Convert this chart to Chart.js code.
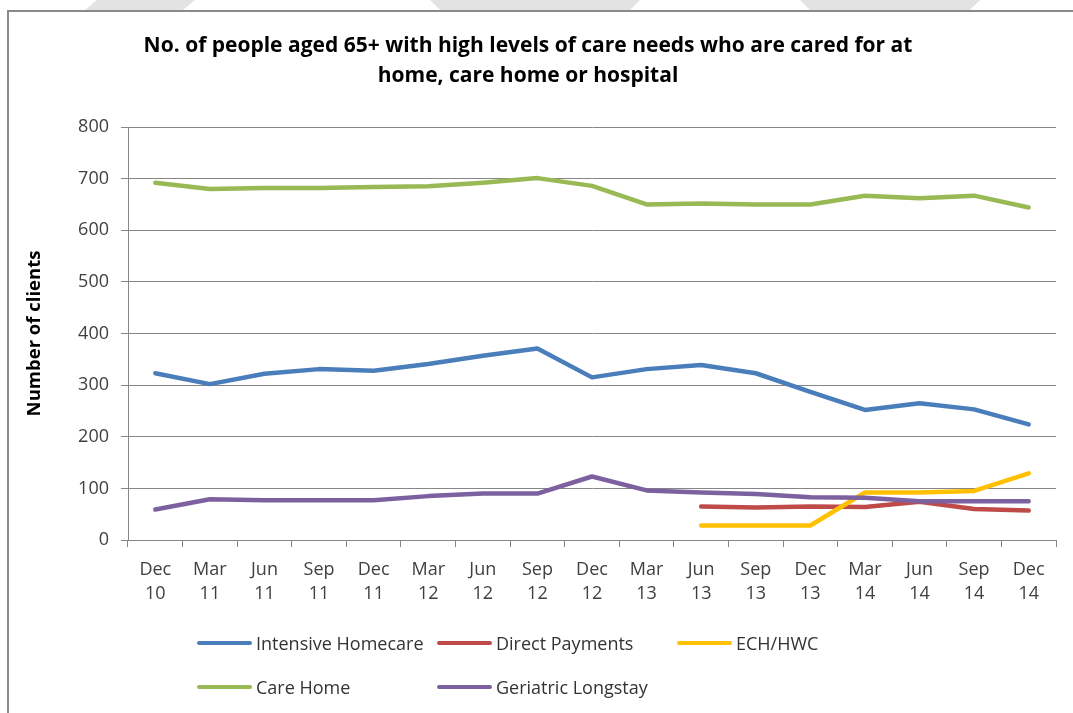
<!DOCTYPE html>
<html>
<head>
<meta charset="utf-8">
<script src="https://cdn.jsdelivr.net/npm/chart.js@4/dist/chart.umd.min.js"></script>
<style>
  html, body { margin: 0; padding: 0; background: #fff; }
  #wrap { position: relative; width: 1073px; height: 713px; overflow: hidden; background: #fff; }
  #frame { position: absolute; left: 7px; top: 10px; width: 1080px; height: 720px;
           border-left: 2px solid #8a8a8a; border-top: 2px solid #8a8a8a; }
  .wm { position: absolute; top: 0; height: 10px; background: #e3e3e3; }
  canvas { position: absolute; left: 0; top: 0; }
  #legend { position: absolute; left: 0; top: 0; width: 1073px; height: 713px; pointer-events: none;
            font-family: "Open Sans", sans-serif; font-size: 18px; color: #333; }
  .li { position: absolute; display: flex; align-items: center; white-space: nowrap; }
  .sw { width: 55px; height: 4px; border-radius: 2px; margin-right: 4px; }
</style>
</head>
<body>
<div id="wrap">
  <div class="wm" style="left:85px;width:110px;clip-path:polygon(12px 0,110px 0,98px 10px,0 10px);"></div>
  <div class="wm" style="left:430px;width:210px;clip-path:polygon(0 0,210px 0,200px 10px,10px 10px);"></div>
  <div class="wm" style="left:800px;width:180px;clip-path:polygon(0 0,180px 0,170px 10px,10px 10px);"></div>
  <div id="frame"></div>
  <canvas id="c" width="1073" height="713"></canvas>
  <div id="legend"></div>
</div>
<script>
const categories = [["Dec","10"],["Mar","11"],["Jun","11"],["Sep","11"],["Dec","11"],["Mar","12"],["Jun","12"],["Sep","12"],["Dec","12"],["Mar","13"],["Jun","13"],["Sep","13"],["Dec","13"],["Mar","14"],["Jun","14"],["Sep","14"],["Dec","14"]];
const seriesNames = ["Intensive Homecare","Direct Payments","ECH/HWC","Care Home","Geriatric Longstay"];
const intensiveHomecare = [323,302,322,331,328,341,357,371,315,331,339,323,287,252,265,253,224];
const directPayments   = [null,null,null,null,null,null,null,null,null,null,65,63,65,64,74,60,57];
const echHwc           = [null,null,null,null,null,null,null,null,null,null,28,28,28,92,92,95,129];
const careHome         = [692,680,682,682,684,685,692,701,686,650,652,650,650,667,662,667,644];
const geriatricLongstay= [59,79,77,77,77,85,90,90,123,96,92,89,83,82,75,75,75];
const yTicks = [0,100,200,300,400,500,600,700,800];
const colors = ["#4A7EBB","#BE4B48","#FFC000","#98B954","#7D60A0"];
const allSeries = [intensiveHomecare, directPayments, echHwc, careHome, geriatricLongstay];

const datasets = allSeries.map((d, i) => ({
  label: seriesNames[i],
  data: d,
  borderColor: colors[i],
  backgroundColor: colors[i],
  borderWidth: 4.5,
  pointRadius: 0,
  pointHoverRadius: 0,
  tension: 0,
  spanGaps: false,
  borderCapStyle: 'round',
  borderJoinStyle: 'round',
  order: allSeries.length - i
}));

const GRID = '#868686';
new Chart(document.getElementById('c'), {
  type: 'line',
  data: { labels: categories, datasets },
  options: {
    responsive: false,
    animation: false,
    layout: { padding: { left: 0, right: 17, top: 0, bottom: 0 } },
    plugins: {
      legend: { display: false },
      tooltip: { enabled: false },
      title: {
        display: true,
        text: ["No. of people aged 65+ with high levels of care needs who are cared for at", "home, care home or hospital"],
        color: '#000',
        font: { family: '"Open Sans", sans-serif', size: 21, weight: 'bold', lineHeight: 1.4286 },
        padding: { top: 31, bottom: 36 }
      }
    },
    scales: {
      x: {
        offset: true,
        grid: { display: true, drawOnChartArea: false, drawTicks: true, tickLength: 7, color: GRID, offset: true },
        border: { display: true, color: GRID, width: 1 },
        ticks: { color: '#404040', font: { family: '"Open Sans", sans-serif', size: 18, lineHeight: 1.33 }, padding: 11, maxRotation: 0, autoSkip: false },
        afterFit: s => { s.height = 173; }
      },
      y: {
        min: 0, max: 800,
        afterBuildTicks: s => { s.ticks = yTicks.map(v => ({ value: v })); },
        grid: { color: GRID, tickLength: 7, drawTicks: true },
        border: { display: true, color: GRID, width: 1 },
        ticks: { color: '#404040', font: { family: '"Open Sans", sans-serif', size: 18 }, padding: 12 },
        title: { display: true, text: 'Number of clients', color: '#000', font: { family: '"Open Sans", sans-serif', size: 18.5, weight: 'bold', lineHeight: 1.2 }, padding: { top: 24, bottom: 0 } },
        afterFit: s => { s.width = 128; }
      }
    }
  }
});

// HTML legend built from the same series arrays
const legendPos = [[197,643],[437,643],[677,643],[197,687],[437,687]];
const lg = document.getElementById('legend');
seriesNames.forEach((name, i) => {
  const el = document.createElement('div');
  el.className = 'li';
  el.style.left = legendPos[i][0] + 'px';
  el.style.top = (legendPos[i][1] - 13) + 'px';
  el.style.height = '26px';
  el.innerHTML = '<span class="sw" style="background:' + colors[i] + '"></span><span>' + name + '</span>';
  lg.appendChild(el);
});
</script>
</body>
</html>
